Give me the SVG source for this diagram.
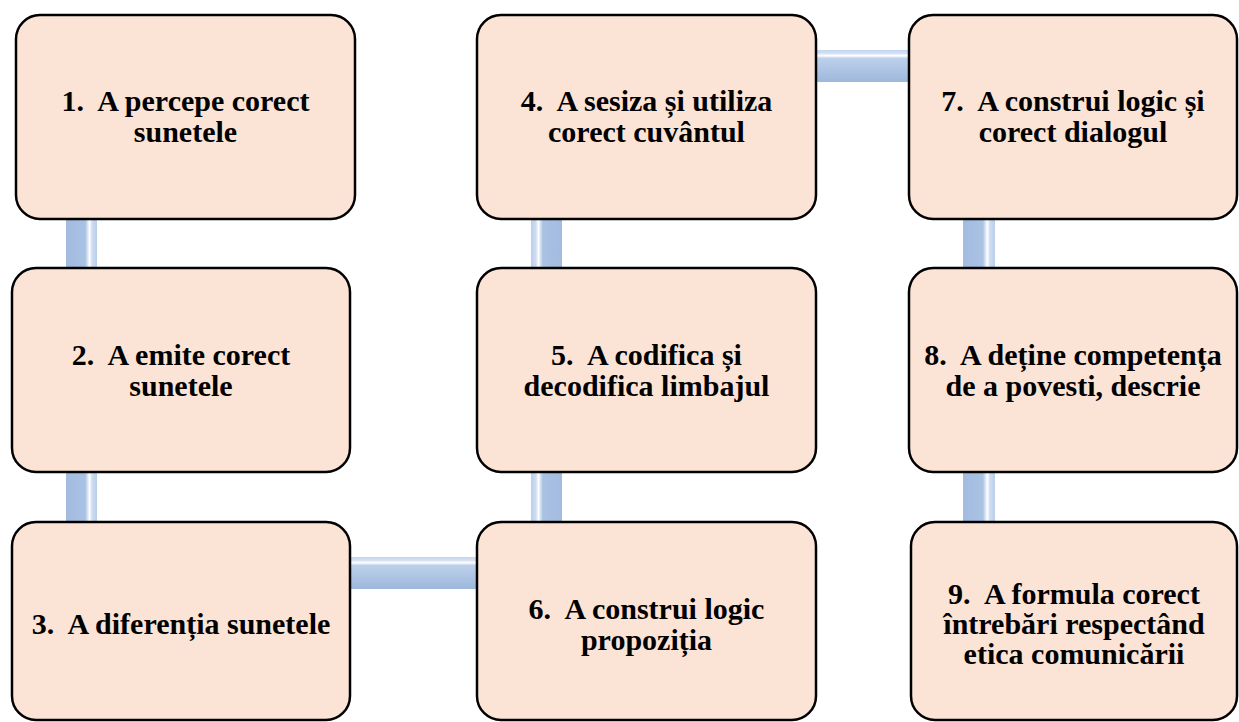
<svg xmlns="http://www.w3.org/2000/svg" width="1239" height="722" viewBox="0 0 1239 722">
<defs>
<linearGradient id="gVR" x1="0" y1="0" x2="1" y2="0">
<stop offset="0" stop-color="#A2BBDF"/>
<stop offset="0.62" stop-color="#AAC2E3"/>
<stop offset="0.7" stop-color="#D9E5F4"/>
<stop offset="0.76" stop-color="#FFFFFF"/>
<stop offset="0.84" stop-color="#CFDDF1"/>
<stop offset="1" stop-color="#B9CDEA"/>
</linearGradient>
<linearGradient id="gVL" x1="1" y1="0" x2="0" y2="0">
<stop offset="0" stop-color="#A2BBDF"/>
<stop offset="0.62" stop-color="#AAC2E3"/>
<stop offset="0.7" stop-color="#D9E5F4"/>
<stop offset="0.76" stop-color="#FFFFFF"/>
<stop offset="0.84" stop-color="#CFDDF1"/>
<stop offset="1" stop-color="#B9CDEA"/>
</linearGradient>
<linearGradient id="gH" x1="0" y1="0" x2="0" y2="1">
<stop offset="0" stop-color="#C3D6EF"/>
<stop offset="0.1" stop-color="#D2E0F3"/>
<stop offset="0.18" stop-color="#FFFFFF"/>
<stop offset="0.26" stop-color="#BCD0EB"/>
<stop offset="1" stop-color="#9DB8DC"/>
</linearGradient>
<style>
.box{fill:#FBE4D6;stroke:#000;stroke-width:2.5}
text{font-family:'Liberation Serif','Times New Roman',serif;font-weight:700;font-size:30px;fill:#000;text-anchor:middle;white-space:pre}
</style>
</defs>
<g id="connectors">
<rect x="66" y="210" width="31" height="66" fill="url(#gVR)"/>
<rect x="66" y="462" width="31" height="68" fill="url(#gVR)"/>
<rect x="531" y="210" width="31" height="66" fill="url(#gVL)"/>
<rect x="531" y="462" width="31" height="68" fill="url(#gVL)"/>
<rect x="963" y="210" width="32" height="66" fill="url(#gVR)"/>
<rect x="963" y="462" width="32" height="68" fill="url(#gVR)"/>
<rect x="340" y="557" width="150" height="32" fill="url(#gH)"/>
<rect x="806" y="50" width="113" height="32" fill="url(#gH)"/>
</g>
<g id="n1"><rect class="box" x="16" y="15" width="339" height="204" rx="24"/>
<text x="185.5" y="111">1.  A percepe corect</text><text x="185.5" y="142">sunetele</text></g>
<g id="n2"><rect class="box" x="12" y="268" width="338" height="204" rx="24"/>
<text x="181" y="365">2.  A emite corect</text><text x="181" y="396">sunetele</text></g>
<g id="n3"><rect class="box" x="12" y="522" width="338" height="198" rx="24"/>
<text x="181" y="634">3.  A diferenția sunetele</text></g>
<g id="n4"><rect class="box" x="477" y="15" width="339" height="204" rx="24"/>
<text x="646.5" y="111">4.  A sesiza și utiliza</text><text x="646.5" y="142">corect cuvântul</text></g>
<g id="n5"><rect class="box" x="477" y="268" width="339" height="204" rx="24"/>
<text x="646.5" y="365">5.  A codifica și</text><text x="646.5" y="396">decodifica limbajul</text></g>
<g id="n6"><rect class="box" x="477" y="522" width="339" height="198" rx="24"/>
<text x="646.5" y="619">6.  A construi logic</text><text x="646.5" y="650">propoziția</text></g>
<g id="n7"><rect class="box" x="909" y="15" width="328" height="204" rx="24"/>
<text x="1073" y="111">7.  A construi logic și</text><text x="1073" y="142">corect dialogul</text></g>
<g id="n8"><rect class="box" x="909" y="268" width="328" height="204" rx="24"/>
<text x="1073" y="365">8.  A deține competența</text><text x="1073" y="396">de a povesti, descrie</text></g>
<g id="n9"><rect class="box" x="911" y="522" width="326" height="198" rx="24"/>
<text x="1074" y="604">9.  A formula corect</text><text x="1074" y="634">întrebări respectând</text><text x="1074" y="664">etica comunicării</text></g>
</svg>
